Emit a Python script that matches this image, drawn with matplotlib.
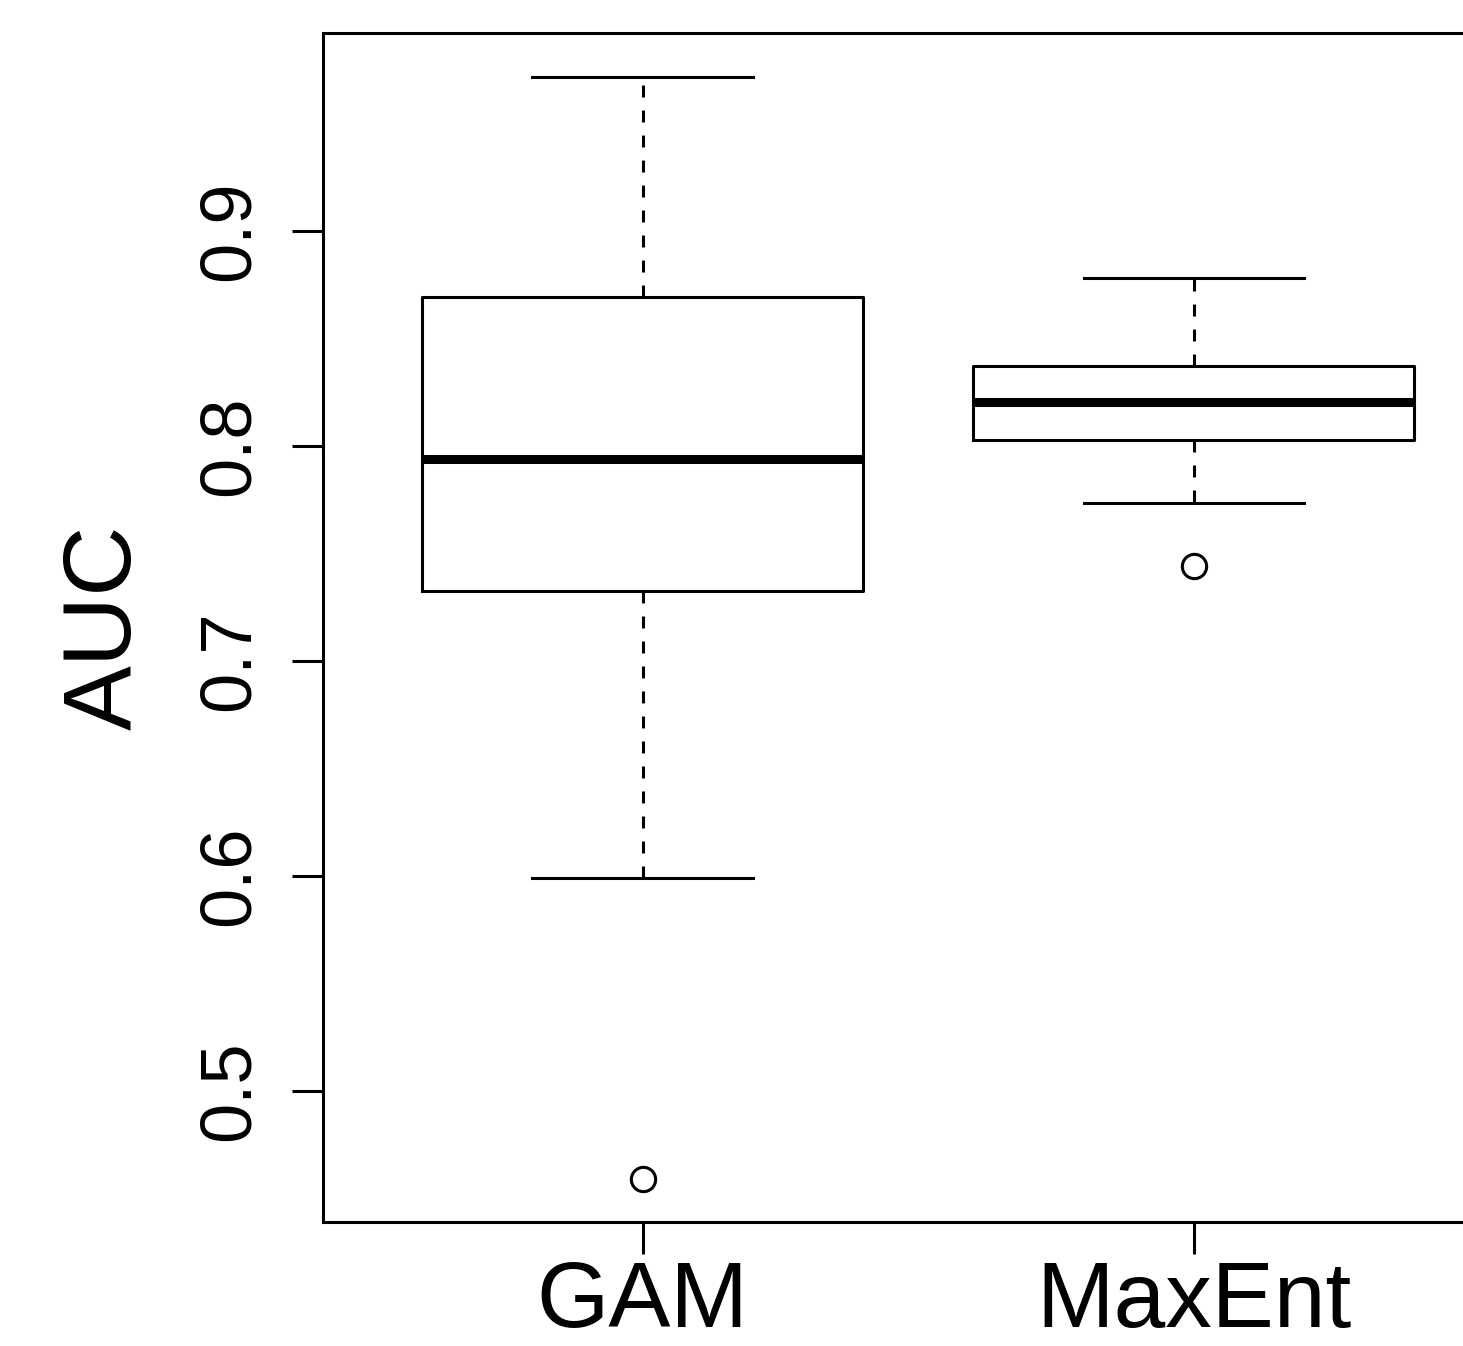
import matplotlib
matplotlib.use("Agg")
import matplotlib.pyplot as plt

plt.rcParams['font.family'] = ['Liberation Sans', 'DejaVu Sans']
plt.rcParams['lines.scale_dashes'] = False

# box statistics
models = ["GAM", "MaxEnt"]
whisker_low = [0.599, 0.7735]
q1 = [0.7326, 0.8028]
median = [0.794, 0.8205]
q3 = [0.8693, 0.8372]
whisker_high = [0.9716, 0.8781]
outliers = [[0.4591], [0.7442]]

yticks = [0.5, 0.6, 0.7, 0.8, 0.9]

stats = []
for i in range(len(models)):
    stats.append({
        "label": models[i],
        "whislo": whisker_low[i],
        "q1": q1[i],
        "med": median[i],
        "q3": q3[i],
        "whishi": whisker_high[i],
        "fliers": outliers[i],
    })

fig = plt.figure(figsize=(14.63, 13.46), dpi=100)
# axes run past the right edge, the source image is cropped there
ax = fig.add_axes([323 / 1463, 1 - 1222 / 1346, (1513.6 - 323) / 1463, (1222 - 33) / 1346])

lw = 2.2
ax.bxp(stats, positions=[1, 2], widths=0.8, capwidths=0.4,
       boxprops=dict(color="black", linewidth=lw),
       whiskerprops=dict(color="black", linewidth=lw, linestyle=(0, (8.6, 9.4))),
       capprops=dict(color="black", linewidth=lw),
       medianprops=dict(color="black", linewidth=6.5, solid_capstyle="butt"),
       flierprops=dict(marker="o", markersize=17.5, markerfacecolor="none",
                       markeredgecolor="black", markeredgewidth=lw))

ax.set_xlim(0.42, 2.58)
ax.set_ylim(0.4391, 0.9921)
ax.set_yticks(yticks)
ax.set_yticklabels([str(t) for t in yticks], rotation=90, va="center")
ax.set_xticks([1, 2])
ax.set_xticklabels(models)

for s in ax.spines.values():
    s.set_linewidth(2.2)
ax.tick_params(axis="y", length=22, width=2.2, labelsize=52, pad=21)
ax.tick_params(axis="x", length=23, width=2.2, labelsize=67, pad=4)
ax.set_ylabel("AUC", fontsize=70, labelpad=33)

fig.savefig("out.png", dpi=100)
